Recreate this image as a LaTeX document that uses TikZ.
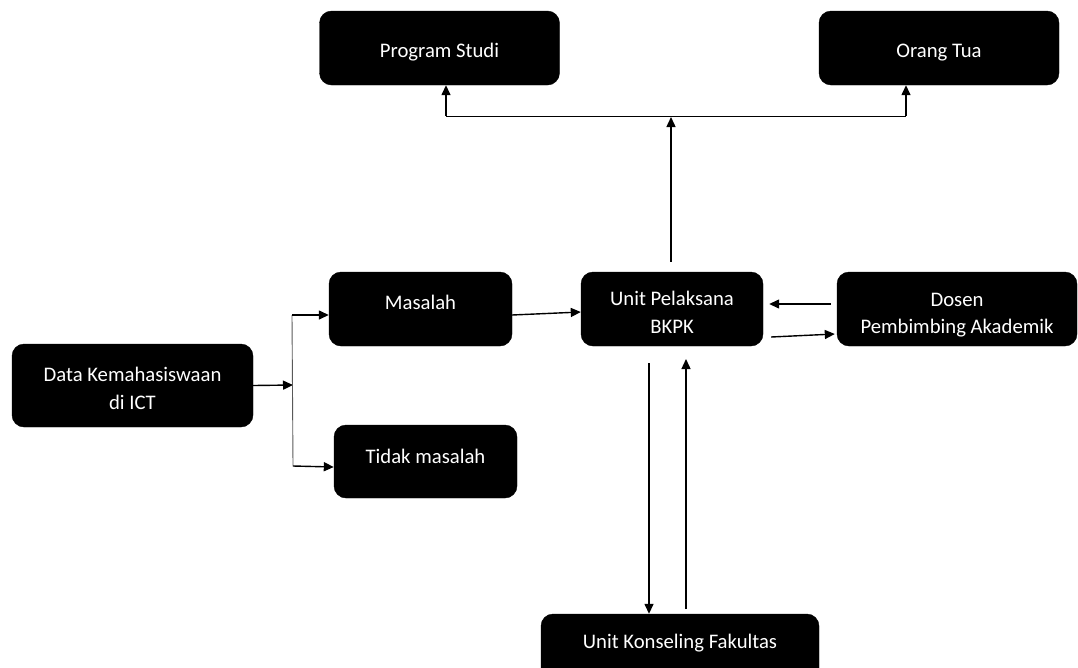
\documentclass[tikz,border=0pt]{standalone}
\usepackage{fontspec}
\setmainfont{Carlito}
\usetikzlibrary{arrows.meta,calc}
\begin{document}
\begin{tikzpicture}[x=1pt,y=-1pt,
  blk/.style={draw=black,fill=black,rounded corners=12pt,text=white,
    align=center,inner sep=0pt,
    font=\fontsize{20.7}{28}\selectfont},
  tx/.style 2 args={text height=#1pt,text depth=#2pt},
  th/.style={text height=#1pt},
  arr/.style={line width=1.4pt,-{Triangle[length=10pt,width=9pt]}},
  ln/.style={line width=1pt}]
\useasboundingbox (0,0) rectangle (1078,667);

% boxes
\node[blk,tx={19}{0.4},minimum width=240pt,minimum height=74pt] (prodi) at (439.5,48) {Program Studi};
\node[blk,tx={19}{0.4},minimum width=240pt,minimum height=74pt] (ortu) at (939,48) {Orang Tua};
\node[blk,th=49,minimum width=241pt,minimum height=83pt] (data) at (132.5,385.5) {Data Kemahasiswaan\\di ICT};
\node[blk,tx={14}{13},minimum width=183pt,minimum height=74pt] (masalah) at (420.5,309) {Masalah};
\node[blk,tx={14}{10},minimum width=183pt,minimum height=73pt] (tidak) at (425.5,461.5) {Tidak masalah};
\node[blk,th=48,minimum width=182pt,minimum height=74pt] (bkpk) at (672,309) {Unit Pelaksana\\BKPK};
\node[blk,th=52,minimum width=240pt,minimum height=74pt,
  font=\fontsize{20.7}{26.5}\selectfont] (dosen) at (957,309) {Dosen\\Pembimbing Akademik};
\node[blk,tx={14}{15},minimum width=278pt,minimum height=70pt] (konseling) at (680,649) {Unit Konseling Fakultas};

% branching after the student data
\coordinate (jc) at (293,385);
\coordinate (jt) at (292,315);
\coordinate (jb) at (293,466);
\draw[arr] (data.east) -- (jc);
\draw[line width=0.9pt,gray!70!black] (jt) -- (jb);
\draw[arr] (jt) -- (jt -| masalah.west);
\draw[arr] (jb) -- ($(jb -| tidak.west)+(0,1)$);

% problem case to the BKPK unit
\draw[arr] ($(masalah.east)+(0,6)$) -- ($(bkpk.west)+(0,3)$);

% reporting upwards
\coordinate (up0) at ($(bkpk.north)+(-1,-10)$);
\coordinate (bl) at (446,116);
\coordinate (br) at (906,116);
\coordinate (bm) at (671,117);
\draw[arr] (up0) -- (bm);
\draw[ln] (bl) -- (br);
\draw[arr] (bl) -- (bl |- prodi.south);
\draw[arr] (br) -- (br |- ortu.south);

% academic supervisor exchange
\draw[arr] ($(dosen.west)+(-6,-5)$) -- ($(bkpk.east)+(6,-5)$);
\draw[arr] ($(bkpk.east)+(8,28)$) -- ($(dosen.west)+(-2,25)$);

% faculty counselling exchange
\coordinate (d0) at (649,363);
\coordinate (u0) at (686,609);
\draw[arr] (d0) -- (d0 |- konseling.north);
\draw[arr] (u0) -- (686,359);
\end{tikzpicture}
\end{document}
